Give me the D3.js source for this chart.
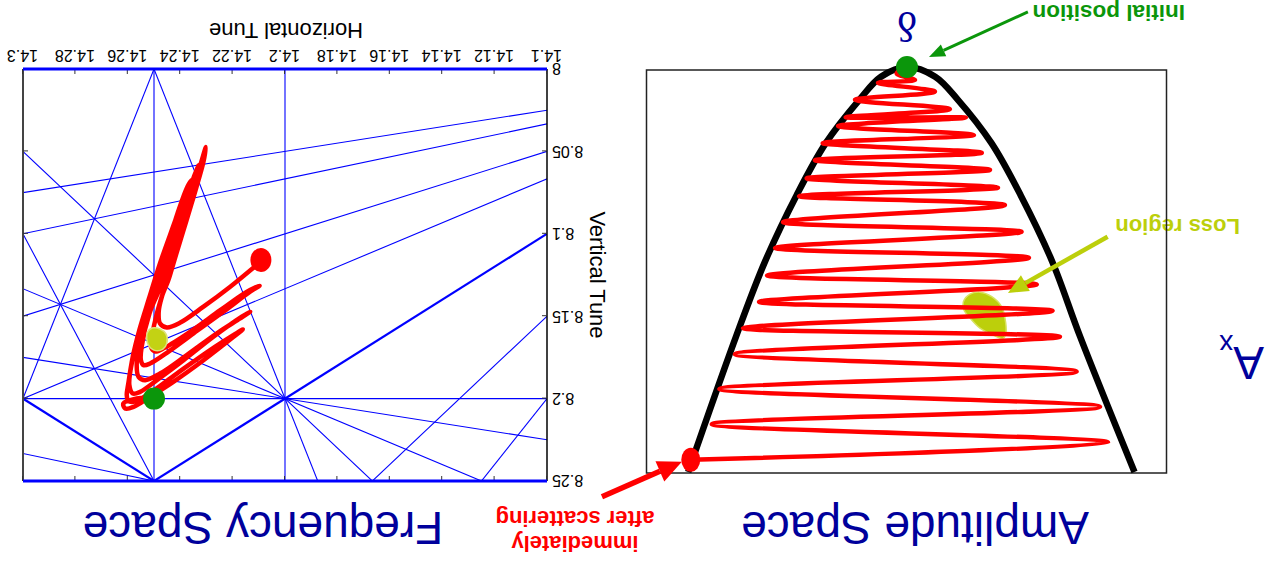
<!DOCTYPE html>
<html>
<head>
<meta charset="utf-8">
<script src="https://cdn.jsdelivr.net/npm/d3@7"></script>
<style>
body { margin: 0; background: #fff; }
svg { display: block; font-family: "Liberation Sans", Arial, sans-serif; }
</style>
</head>
<body>
<svg id="chart" width="1267" height="561"></svg>
<script>
// ---- amplitude space: damping track (delta, Ax) ----
const ampDelta = [0.998, -0.928, 0.901, -0.891, 0.866, -0.783, 0.794, -0.706, 0.757, -0.672,
  0.683, -0.599, 0.646, -0.563, 0.609, -0.529, 0.572, -0.452, 0.498, -0.420,
  0.463, -0.383, 0.425, -0.345, 0.389, -0.309, 0.318, -0.272, 0.283, -0.198,
  0.240, -0.129, 0.134, -0.037, 0.048, 0.005];
const ampAx = [0.970, 0.927, 0.882, 0.839, 0.795, 0.752, 0.709, 0.666, 0.645, 0.602,
  0.580, 0.537, 0.515, 0.471, 0.447, 0.407, 0.383, 0.341, 0.319, 0.298,
  0.275, 0.254, 0.230, 0.212, 0.188, 0.168, 0.146, 0.125, 0.124, 0.104,
  0.081, 0.061, 0.039, 0.032, 0.016, 0];

// acceptance boundary
const boundDelta = [-1.05, -0.80, -0.67, -0.525, -0.39, -0.235, -0.13, 0, 0.12, 0.22, 0.375, 0.51, 0.655, 0.79, 1.01];
const boundAx = [1.0, 0.667, 0.48, 0.317, 0.188, 0.081, 0.024, 0, 0.024, 0.081, 0.188, 0.317, 0.48, 0.667, 1.0];

// loss region outline
const lossDelta = [-0.260, -0.291, -0.337, -0.391, -0.437, -0.452, -0.457, -0.444, -0.398, -0.337, -0.291, -0.263];
const lossAx = [0.580, 0.561, 0.556, 0.567, 0.592, 0.620, 0.654, 0.670, 0.662, 0.645, 0.620, 0.600];

const ampStart = [0.998, 0.970];
const ampEnd = [0, 0];

// ---- frequency space ----
const qxTicks = [14.1, 14.12, 14.14, 14.16, 14.18, 14.2, 14.22, 14.24, 14.26, 14.28, 14.3];
const qyTicks = [8, 8.05, 8.1, 8.15, 8.2, 8.25];

// resonance lines m*Qx + n*Qy = p
const resonances = [[4, 0, 57], [5, 0, 71], [0, 5, 41], [4, -1, 49], [4, 1, 65], [1, -1, 6],
  [2, 2, 45], [1, 4, 47], [2, 3, 53], [3, 2, 59], [3, -2, 26], [2, -1, 20], [1, 3, 39],
  [3, 1, 51], [-1, 4, 18], [-1, 3, 10], [-1, 2, 2], [2, -3, 4]];

// tune track
const tuneQx = [14.2108, 14.2209, 14.2311, 14.2401, 14.2451, 14.2477, 14.2482, 14.2470, 14.2445, 14.2422,
  14.2391, 14.2358, 14.2330, 14.2311, 14.2302, 14.2321, 14.2342, 14.2375, 14.2413, 14.2451,
  14.2489, 14.2508, 14.2512, 14.2496, 14.2458, 14.2362, 14.2247, 14.2145, 14.2097, 14.2133,
  14.2235, 14.2349, 14.2451, 14.2515, 14.2540, 14.2550, 14.2547, 14.2517, 14.2464, 14.2426,
  14.2387, 14.2352, 14.2329, 14.2339, 14.2362, 14.2400, 14.2438, 14.2477, 14.2521, 14.2553,
  14.2566, 14.2559, 14.2534, 14.2477, 14.2375, 14.2260, 14.2171, 14.2133, 14.2165, 14.2273,
  14.2387, 14.2489, 14.2553, 14.2581, 14.2594, 14.2585, 14.2556, 14.2530, 14.2487, 14.2449,
  14.2410, 14.2372, 14.2356, 14.2385, 14.2432, 14.2477, 14.2517, 14.2556, 14.2581, 14.2598,
  14.2604, 14.2598, 14.2578, 14.2528, 14.2413, 14.2286, 14.2196, 14.2161, 14.2196, 14.2311,
  14.2426, 14.2515, 14.2578, 14.2610, 14.2617, 14.2566, 14.2500];
const tuneQy = [8.1189, 8.1321, 8.1442, 8.1540, 8.1568, 8.1544, 8.1473, 8.1382, 8.1280, 8.1159,
  8.0997, 8.0825, 8.0673, 8.0561, 8.0474, 8.0571, 8.0673, 8.0875, 8.1078, 8.1280,
  8.1483, 8.1625, 8.1685, 8.1714, 8.1690, 8.1594, 8.1463, 8.1351, 8.1315, 8.1351,
  8.1473, 8.1604, 8.1722, 8.1787, 8.1797, 8.1767, 8.1685, 8.1483, 8.1280, 8.1078,
  8.0875, 8.0673, 8.0582, 8.0622, 8.0713, 8.0875, 8.1078, 8.1280, 8.1483, 8.1665,
  8.1787, 8.1868, 8.1888, 8.1848, 8.1736, 8.1604, 8.1513, 8.1473, 8.1503, 8.1625,
  8.1767, 8.1888, 8.1959, 8.1969, 8.1918, 8.1787, 8.1625, 8.1483, 8.1280, 8.1078,
  8.0875, 8.0713, 8.0673, 8.0774, 8.0977, 8.1179, 8.1382, 8.1584, 8.1746, 8.1908,
  8.1979, 8.2014, 8.2020, 8.1979, 8.1848, 8.1706, 8.1614, 8.1580, 8.1625, 8.1767,
  8.1898, 8.1989, 8.2050, 8.2060, 8.2030, 8.1999, 8.1996];

const lossQx = [14.2526, 14.2507, 14.2477, 14.2454, 14.2451, 14.2466, 14.2500, 14.2523];
const lossQy = [8.1602, 8.1572, 8.1578, 8.1609, 8.1663, 8.1700, 8.1706, 8.1669];

const tuneStart = [14.2092, 8.1159];
const tuneEnd = [14.25, 8.2];

// ------------------------------------------------------------------
const navy = '#00009c', green = '#0b960b', lime = '#bccf0b';

const svg = d3.select('#chart');
// the whole figure is shown turned upside down
const root = svg.append('g').attr('transform', 'rotate(180,633.5,280.5)');

function arrow(g, x1, y1, x2, y2, color, w, hl, hw) {
  const a = Math.atan2(y2 - y1, x2 - x1);
  const bx = x2 - hl * Math.cos(a), by = y2 - hl * Math.sin(a);
  g.append('line').attr('x1', x1).attr('y1', y1).attr('x2', bx).attr('y2', by)
    .attr('stroke', color).attr('stroke-width', w);
  const px = -Math.sin(a) * hw / 2, py = Math.cos(a) * hw / 2;
  g.append('path').attr('d', `M${x2},${y2}L${bx + px},${by + py}L${bx - px},${by - py}Z`).attr('fill', color);
}

// ---------- amplitude space ----------
const dx = d3.scaleLinear().domain([-1.2, 1.2]).range([100, 620]);
const ay = d3.scaleLinear().domain([0, 1]).range([494, 89]);

const amp = root.append('g');

amp.append('text').attr('x', 27).attr('y', 342).attr('fill', lime)
  .style('font-size', '22px').style('font-weight', 'bold').text('Loss region');

amp.append('rect').attr('x', 100.5).attr('y', 88).attr('width', 520).attr('height', 403)
  .attr('fill', 'none').attr('stroke', '#222').attr('stroke-width', 1.5);

amp.append('path').datum(d3.zip(boundDelta, boundAx))
  .attr('d', d3.line().x(d => dx(d[0])).y(d => ay(d[1])).curve(d3.curveCatmullRom.alpha(0.5)))
  .attr('fill', 'none').attr('stroke', '#000').attr('stroke-width', 6.5);

amp.append('path').datum(d3.zip(lossDelta, lossAx))
  .attr('d', d3.line().x(d => dx(d[0])).y(d => ay(d[1])).curve(d3.curveCatmullRomClosed))
  .attr('fill', lime).attr('stroke', '#d8e25e').attr('stroke-width', 1.5);

amp.append('path').datum(d3.zip(ampDelta, ampAx))
  .attr('d', d3.line().x(d => dx(d[0])).y(d => ay(d[1])).curve(d3.curveCatmullRom.alpha(0.5)))
  .attr('fill', 'none').attr('stroke', '#ff0000').attr('stroke-width', 4.5)
  .attr('stroke-linejoin', 'round').attr('stroke-linecap', 'round');

amp.append('ellipse').attr('cx', dx(ampStart[0])).attr('cy', ay(ampStart[1]))
  .attr('rx', 9.5).attr('ry', 12).attr('fill', '#ff0000');
amp.append('circle').attr('cx', dx(ampEnd[0])).attr('cy', ay(ampEnd[1]))
  .attr('r', 11).attr('fill', green);

amp.append('text').attr('x', dx(0)).attr('y', 549).attr('text-anchor', 'middle')
  .style('font-family', '"Liberation Serif", serif').style('font-size', '42px')
  .attr('fill', navy).text('δ');

const axLab = amp.append('text').attr('x', 3).attr('y', 214).attr('fill', navy);
axLab.append('tspan').style('font-size', '46px').text('A');
axLab.append('tspan').attr('dy', 12).style('font-size', '28px').text('x');

amp.append('text').attr('x', 82).attr('y', 556).attr('fill', green)
  .style('font-size', '22.5px').style('font-weight', 'bold').text('Initial position');
arrow(amp, dx(-0.558), ay(-0.136), dx(-0.1015), ay(-0.0247), green, 3, 16, 13);

arrow(amp, dx(-0.926), ay(0.419), dx(-0.466), ay(0.558), lime, 4.5, 20, 18);

const scat = amp.append('text').attr('text-anchor', 'middle').attr('fill', '#ff0000')
  .style('font-size', '22px').style('font-weight', 'bold');
scat.append('tspan').attr('x', 692).attr('y', 25).text('immediately');
scat.append('tspan').attr('x', 692).attr('y', 50).text('after scattering');
arrow(amp, dx(1.408), ay(1.061), dx(1.039), ay(0.9746), '#ff0000', 5.5, 24, 22);

amp.append('text').attr('x', 352).attr('y', 49).attr('text-anchor', 'middle')
  .style('font-size', '46px').attr('fill', navy).text('Amplitude Space');

// ---------- frequency space ----------
const qx = d3.scaleLinear().domain([14.1, 14.3]).range([720, 1244]);
const qy = d3.scaleLinear().domain([8, 8.25]).range([492, 80]);

const fq = root.append('g');
svg.append('defs').append('clipPath').attr('id', 'fclip')
  .append('rect').attr('x', qx(14.1)).attr('y', qy(8.25))
  .attr('width', qx(14.3) - qx(14.1)).attr('height', qy(8) - qy(8.25));

const res = fq.append('g').attr('clip-path', 'url(#fclip)');
res.selectAll('line').data(resonances).join('line')
  .each(function (r) {
    const [m, n, p] = r;
    let x1, y1, x2, y2;
    if (n === 0) {
      x1 = x2 = p / m; y1 = 8; y2 = 8.25;
    } else {
      x1 = 14.0; x2 = 14.4;
      y1 = (p - m * x1) / n; y2 = (p - m * x2) / n;
    }
    d3.select(this).attr('x1', qx(x1)).attr('y1', qy(y1)).attr('x2', qx(x2)).attr('y2', qy(y2));
  })
  .attr('stroke', '#0000ff')
  .attr('stroke-width', r => Math.abs(r[0]) === Math.abs(r[1]) ? 2.2 : 1.1);

// frame
fq.append('line').attr('x1', qx(14.1)).attr('x2', qx(14.1)).attr('y1', qy(8)).attr('y2', qy(8.25))
  .attr('stroke', '#000').attr('stroke-width', 1.5);
fq.append('line').attr('x1', qx(14.3)).attr('x2', qx(14.3)).attr('y1', qy(8)).attr('y2', qy(8.25))
  .attr('stroke', '#444').attr('stroke-width', 2);

const fmt = d3.format('~g');
function styleAxis(g) {
  g.select('.domain').remove();
  g.selectAll('.tick line').attr('stroke', '#333');
  g.selectAll('.tick text').attr('fill', '#000')
    .style('font-size', '16px').style('font-family', '"Liberation Sans", Arial, sans-serif');
}
fq.append('g').attr('transform', `translate(0,${qy(8)})`)
  .call(d3.axisBottom(qx).tickValues(qxTicks).tickFormat(fmt).tickSize(-5).tickPadding(8)).call(styleAxis);
fq.append('g').attr('transform', `translate(0,${qy(8.25)})`)
  .call(d3.axisTop(qx).tickValues(qxTicks).tickFormat('').tickSize(-5)).call(styleAxis);
fq.append('g').attr('transform', `translate(${qx(14.1)},0)`)
  .call(d3.axisLeft(qy).tickValues(qyTicks).tickFormat(fmt).tickSize(-5).tickPadding(5)).call(styleAxis);
fq.append('g').attr('transform', `translate(${qx(14.3)},0)`)
  .call(d3.axisRight(qy).tickValues(qyTicks).tickFormat('').tickSize(-5)).call(styleAxis);

fq.append('line').attr('x1', qx(14.1)).attr('x2', qx(14.3)).attr('y1', qy(8)).attr('y2', qy(8))
  .attr('stroke', '#0000ff').attr('stroke-width', 3);
fq.append('line').attr('x1', qx(14.1)).attr('x2', qx(14.3)).attr('y1', qy(8.25)).attr('y2', qy(8.25))
  .attr('stroke', '#0000ff').attr('stroke-width', 3);

fq.append('path').datum(d3.zip(tuneQx, tuneQy))
  .attr('d', d3.line().x(d => qx(d[0])).y(d => qy(d[1])).curve(d3.curveCatmullRom.alpha(0.5)))
  .attr('fill', 'none').attr('stroke', '#ff0000').attr('stroke-width', 4.5)
  .attr('stroke-linejoin', 'round').attr('stroke-linecap', 'round');

fq.append('path').datum(d3.zip(lossQx, lossQy))
  .attr('d', d3.line().x(d => qx(d[0])).y(d => qy(d[1])).curve(d3.curveCatmullRomClosed))
  .attr('fill', '#c3d214').attr('stroke', '#dde27a').attr('stroke-width', 1.5);

fq.append('ellipse').attr('cx', qx(tuneStart[0])).attr('cy', qy(tuneStart[1]))
  .attr('rx', 10.5).attr('ry', 12).attr('fill', '#ff0000');
fq.append('circle').attr('cx', qx(tuneEnd[0])).attr('cy', qy(tuneEnd[1]))
  .attr('r', 11).attr('fill', green);

fq.append('text').attr('x', 981).attr('y', 538).attr('text-anchor', 'middle')
  .style('font-size', '22px').attr('fill', '#000').text('Horizontal Tune');
fq.append('text').attr('transform', 'translate(677,286) rotate(-90)').attr('text-anchor', 'middle')
  .style('font-size', '22px').attr('fill', '#000').text('Vertical Tune');

fq.append('text').attr('x', 1004).attr('y', 49).attr('text-anchor', 'middle')
  .style('font-size', '46px').attr('fill', navy).text('Frequency Space');
</script>
</body>
</html>
